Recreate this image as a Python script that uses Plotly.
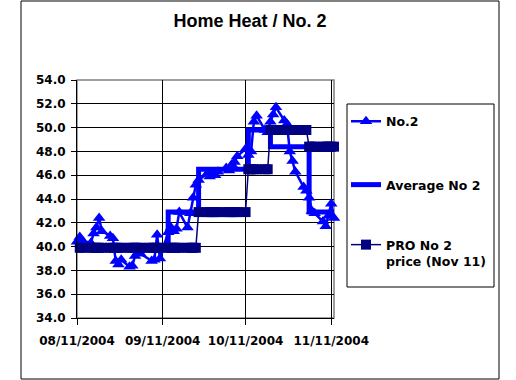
import plotly.graph_objects as go
import pandas as pd

# ---------------- data ----------------
no2_dates = ['2004-08-11', '2004-08-12', '2004-08-13', '2004-08-16', '2004-08-17', '2004-08-18',
             '2004-08-19', '2004-08-20', '2004-08-23', '2004-08-24', '2004-08-25', '2004-08-26',
             '2004-08-27', '2004-08-30', '2004-08-31', '2004-09-01', '2004-09-02', '2004-09-03',
             '2004-09-07', '2004-09-08', '2004-09-09', '2004-09-10', '2004-09-13', '2004-09-14',
             '2004-09-15', '2004-09-16', '2004-09-17', '2004-09-20', '2004-09-21', '2004-09-22',
             '2004-09-23', '2004-09-24', '2004-09-27', '2004-09-28', '2004-09-29', '2004-09-30',
             '2004-10-01', '2004-10-04', '2004-10-05', '2004-10-06', '2004-10-07', '2004-10-08',
             '2004-10-11', '2004-10-12', '2004-10-13', '2004-10-14', '2004-10-15', '2004-10-18',
             '2004-10-19', '2004-10-20', '2004-10-21', '2004-10-22', '2004-10-25', '2004-10-26',
             '2004-10-27', '2004-10-28', '2004-10-29', '2004-11-01', '2004-11-02', '2004-11-03',
             '2004-11-04', '2004-11-05', '2004-11-08', '2004-11-09', '2004-11-10', '2004-11-11',
             '2004-11-12']
no2_values = [40.4, 40.8, 40.5, 40.3, 41.1, 41.6,
              42.4, 41.3, 40.9, 40.7, 38.8, 38.5,
              38.9, 38.3, 38.4, 39.2, 39.5, 39.4,
              38.8, 38.9, 41.0, 39.0, 41.2, 41.6,
              41.3, 41.5, 42.9, 41.6, 42.8, 44.1,
              45.2, 45.6, 46.1, 45.9, 46.2, 46.0,
              46.3, 46.6, 46.4, 46.9, 47.1, 47.6,
              48.2, 47.7, 48.0, 50.5, 51.0, 49.8,
              49.6, 50.5, 51.1, 51.7, 50.6, 50.3,
              48.0, 47.2, 46.3, 45.0, 44.7, 44.1,
              43.0, 42.8, 42.1, 41.7, 42.6, 43.6,
              42.4]

avg_dates = ['2004-08-11', '2004-09-13', '2004-09-24', '2004-10-12', '2004-10-20', '2004-11-03', '2004-11-12']
avg_values = [40.0, 42.9, 46.5, 49.8, 48.4, 42.9, 42.9]

pro_start = ['2004-08-12', '2004-09-24', '2004-10-12', '2004-10-20', '2004-11-03']
pro_end = ['2004-09-23', '2004-10-11', '2004-10-19', '2004-11-02', '2004-11-12']
pro_values = [39.9, 42.9, 46.5, 49.8, 48.4]

x_tick_dates = ['2004-08-11', '2004-09-11', '2004-10-11', '2004-11-11']
x_tick_labels = ['08/11/2004', '09/11/2004', '10/11/2004', '11/11/2004']
y_tick_values = [34, 36, 38, 40, 42, 44, 46, 48, 50, 52, 54]

title_text = 'Home Heat / No. 2'
names = ['No.2', 'Average No 2', 'PRO No 2<br>price (Nov 11)']

# ------------- build PRO daily series from its price periods -------------
pro_x, pro_y = [], []
for s, e, v in zip(pro_start, pro_end, pro_values):
    days = pd.bdate_range(s, e)
    pro_x += list(days)
    pro_y += [v] * len(days)

BLUE = '#0000FF'
NAVY = '#000080'
FONT = dict(family='DejaVu Sans', size=12, color='black', weight='bold')

fig = go.Figure()
fig.add_trace(go.Scatter(
    x=no2_dates, y=no2_values, name=names[0], mode='lines+markers',
    line=dict(color=BLUE, width=2.5),
    marker=dict(symbol='triangle-up', size=11, color=BLUE, line=dict(width=0)),
    cliponaxis=False, legend='legend'))
fig.add_trace(go.Scatter(
    x=avg_dates, y=avg_values, name=names[1], mode='lines',
    line=dict(color=BLUE, width=5, shape='hv'), legend='legend2'))
fig.add_trace(go.Scatter(
    x=pro_x, y=pro_y, name=names[2], mode='lines+markers',
    line=dict(color=NAVY, width=1.5),
    marker=dict(symbol='square', size=10, color=NAVY, line=dict(width=0)),
    cliponaxis=False, legend='legend3'))

L, T = 77, 80
W_PLOT, H_PLOT = 257, 238


def px_x(p):
    return (p - L) / W_PLOT


def px_y(p):
    return (T + H_PLOT - p) / H_PLOT


shapes = [
    # outer chart border
    dict(type='rect', xref='paper', yref='paper', x0=px_x(21), x1=px_x(499), y0=px_y(379), y1=px_y(1),
         line=dict(color='black', width=1), layer='below'),
    # plot area border (grey)
    dict(type='rect', xref='paper', yref='paper', x0=0, x1=1, y0=0, y1=1,
         line=dict(color='#808080', width=1.5), layer='between'),
    # legend box
    dict(type='rect', xref='paper', yref='paper', x0=px_x(347), x1=px_x(494), y0=px_y(287), y1=px_y(104),
         line=dict(color='black', width=1), layer='below'),
]

leg_common = dict(bgcolor='rgba(0,0,0,0)', borderwidth=0,
                  font=dict(family='DejaVu Sans', size=12.5, color='black', weight='bold'),
                  xanchor='left', yanchor='middle', valign='top', itemwidth=30)

fig.update_layout(
    width=516, height=380,
    margin=dict(l=L, r=516 - L - W_PLOT, t=T, b=380 - T - H_PLOT),
    paper_bgcolor='white', plot_bgcolor='white',
    showlegend=True,
    title=dict(text=title_text, x=px_x(250), xref='paper', xanchor='center',
               y=1 - 21 / 380, yref='container', yanchor='middle',
               font=dict(family='Liberation Sans', size=18, color='black', weight='bold')),
    xaxis=dict(type='date', range=['2004-08-11', '2004-11-12'],
               tickmode='array', tickvals=x_tick_dates, ticktext=x_tick_labels,
               showgrid=True, gridcolor='black', gridwidth=1,
               showline=True, linecolor='black', linewidth=1,
               ticks='outside', ticklen=6, tickcolor='black', tickwidth=1,
               ticklabelstandoff=6, tickfont=FONT, zeroline=False),
    yaxis=dict(range=[34, 54], tickmode='array', tickvals=y_tick_values,
               ticktext=['%.1f' % v for v in y_tick_values],
               showgrid=True, gridcolor='black', gridwidth=1,
               showline=True, linecolor='black', linewidth=1,
               ticks='outside', ticklen=5, tickcolor='black', tickwidth=1,
               ticklabelstandoff=3, tickfont=FONT, zeroline=False),
    legend=dict(x=px_x(346), y=px_y(121.7), **leg_common),
    legend2=dict(x=px_x(346), y=px_y(185), **leg_common),
    legend3=dict(x=px_x(346), y=px_y(253), **leg_common),
    shapes=shapes,
)

fig.write_html('out.html')
